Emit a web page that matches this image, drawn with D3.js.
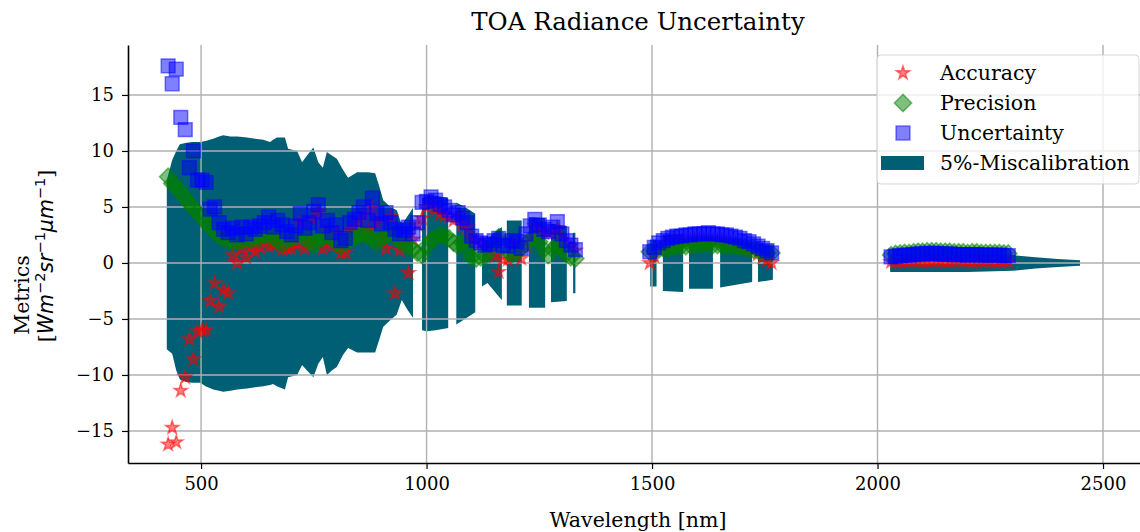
<!DOCTYPE html>
<html>
<head>
<meta charset="utf-8">
<script src="https://cdn.jsdelivr.net/npm/d3@7"></script>
<style>
  body { margin: 0; background: #fff; }
  text { font-family: "DejaVu Serif", serif; fill: #000; }
</style>
</head>
<body>
<script>
// ---- data ----
var vnirWavelength = [
  427,436,445,455,465,474,483,492,502,511,
  520,530,540,550,560,570,580,590,600,610,
  620,630,640,650,660,670,680,690,700,710,
  720,730,740,750,760,770,780,790,800,810,
  820,830,840,850,860,870,880,890,900,910,
  920,930,940,950,960,970,980,990,1000,1010,
  1020,1030,1040,1050,1060,1070,1080,1090,1100,1110,
  1120,1130,1140,1150,1160,1170,1180,1190,1200,1210,
  1220,1230,1240,1250,1260,1270,1280,1290,1300,1310,
  1320,1330
];
var vnirAccuracy = [
  -16.2,-14.7,-16.0,-11.4,-10.2,-6.8,-8.6,-6.1,-6.0,-6.0,
  -3.4,-1.8,-3.9,-2.4,-2.7,0.7,0.0,1.3,0.5,1.4,
  1.0,1.4,2.2,1.5,1.6,2.1,1.2,1.3,1.3,1.6,
  3.6,1.3,1.8,3.9,4.6,1.3,2.8,1.5,2.6,0.9,
  0.9,2.9,3.0,3.7,4.3,2.9,4.9,3.6,2.2,1.3,
  4.1,-2.7,1.1,2.1,-0.9,2.1,3.4,4.0,5.0,5.4,
  4.8,4.4,4.3,4.1,3.8,4.2,3.4,3.2,2.3,1.9,
  1.7,1.4,1.1,0.6,-0.8,0.3,0.3,1.6,1.5,0.4,
  1.5,2.3,3.3,2.9,2.7,2.7,2.8,3.1,2.1,1.7,
  1.5,1.1
];
var vnirPrecision = [
  7.7,7.1,6.8,6.3,5.8,5.3,4.9,4.5,4.1,3.6,
  3.2,2.8,2.4,2.2,2.0,1.9,1.9,2.0,2.1,2.1,
  2.2,2.3,2.5,2.4,2.3,2.0,1.7,2.0,2.2,2.4,
  2.6,2.3,1.9,1.6,2.0,2.3,2.5,2.2,1.8,1.5,
  1.8,2.1,2.3,2.5,2.6,2.4,2.1,1.8,2.2,2.5,
  2.6,2.4,2.0,1.7,1.5,1.2,0.9,0.7,1.5,2.0,
  2.3,2.5,2.4,2.2,1.8,1.5,1.8,1.3,0.5,0.4,
  0.5,0.6,1.2,1.8,2.3,1.7,1.0,0.8,1.0,1.3,
  1.7,2.1,2.3,1.9,1.2,0.7,1.2,1.7,1.3,0.8,
  0.5,0.4
];
var vnirUncertainty = [
  17.6,16.0,17.3,13.0,11.9,8.5,10.0,7.4,7.4,7.2,
  4.8,5.0,3.6,3.0,2.7,3.1,2.5,3.2,2.6,3.2,
  3.0,3.3,3.6,4.1,3.2,3.8,3.4,2.8,2.5,3.3,
  4.4,3.1,3.6,4.6,5.2,3.3,3.8,2.7,3.4,2.0,
  2.2,3.6,3.9,4.5,5.0,3.8,5.8,4.4,3.5,4.5,
  3.6,3.0,2.6,2.9,3.2,2.6,3.6,5.4,5.5,5.9,
  5.6,5.2,5.0,4.7,4.3,4.5,4.0,3.6,2.4,2.0,
  1.8,1.6,1.7,2.0,2.2,1.6,1.5,2.0,1.9,1.3,
  2.6,3.3,3.9,3.4,3.0,2.8,3.2,3.7,2.6,2.0,
  1.6,1.2
];

var swir1Wavelength = [
  1495,1505,1515,1525,1535,1545,1555,1565,1575,1585,
  1595,1605,1615,1625,1635,1645,1655,1665,1675,1685,
  1695,1705,1715,1725,1735,1745,1755,1765
];
var swir1Accuracy = [
  0.0,0.6,1.2,1.5,1.7,1.8,1.9,1.9,2.0,2.0,
  2.1,2.1,2.1,2.1,2.0,2.0,2.0,1.9,1.8,1.7,
  1.6,1.5,1.3,1.1,0.8,0.5,0.2,0.0
];
var swir1Precision = [
  1.0,1.1,1.2,1.3,1.3,1.4,1.5,1.5,1.5,1.6,
  1.6,1.6,1.7,1.7,1.6,1.6,1.6,1.5,1.5,1.5,
  1.4,1.4,1.3,1.2,1.1,1.0,0.9,0.9
];
var swir1Uncertainty = [
  1.0,1.4,1.8,2.0,2.2,2.3,2.4,2.4,2.5,2.5,
  2.6,2.6,2.6,2.7,2.6,2.6,2.5,2.5,2.4,2.3,
  2.2,2.0,1.9,1.7,1.5,1.3,1.1,0.9
];

var swir2Wavelength = [
  2030,2040,2050,2060,2070,2080,2090,2100,2110,2120,
  2130,2140,2150,2160,2170,2180,2190,2200,2210,2220,
  2230,2240,2250,2260,2270,2280,2290
];
var swir2Accuracy = [
  0.1,0.15,0.15,0.1,0.15,0.2,0.15,0.1,0.15,0.15,
  0.2,0.15,0.1,0.15,0.15,0.2,0.15,0.15,0.1,0.15,
  0.15,0.2,0.15,0.1,0.15,0.15,0.1
];
var swir2Precision = [
  0.7,0.8,0.85,0.9,0.9,0.95,1.0,1.0,1.05,1.05,
  1.05,1.0,1.0,1.0,0.95,0.95,0.95,0.9,0.95,0.95,
  0.9,0.9,0.9,0.9,0.9,0.85,0.85
];
var swir2Uncertainty = [
  0.55,0.6,0.65,0.7,0.7,0.75,0.8,0.8,0.85,0.85,
  0.85,0.8,0.8,0.8,0.75,0.75,0.75,0.7,0.75,0.75,
  0.7,0.7,0.7,0.7,0.7,0.65,0.65
];

// 5% miscalibration envelope, null = gap (no data)
var bandWavelength = [
  424,430,436,445,453,465,480,498,510,527,540,549,565,580,602,620,638,653,660,668,
  686,693,713,724,735,749,760,770,779,790,801,815,826,846,870,886,894,904,920,934,
  945,958,970, null,
  990,1000,1020,1048, null,
  1066,1085,1108, null,
  1123,1135,1150,1160,1167, null,
  1178,1211, null,
  1227,1263, null,
  1276,1311, null,
  1325,1330, null,
  1496,1510, null,
  1524,1569, null,
  1582,1635, null,
  1651,1722, null,
  1735,1768, null,
  2028,2050,2100,2200,2300,2350,2400,2449
];
var bandUpper = [
  7.4,8.3,9.2,10.0,10.6,10.7,10.8,10.8,10.9,11.1,11.3,11.4,11.3,11.3,11.2,11.1,11.0,10.8,11.0,11.2,
  11.2,10.2,10.0,9.0,9.6,10.3,9.0,8.5,9.9,9.6,9.3,8.3,7.6,8.1,8.1,8.0,7.0,5.6,5.0,4.7,
  3.4,4.2,4.9, null,
  5.8,6.0,6.0,5.8, null,
  5.4,5.0,4.4, null,
  2.2,2.0,2.6,3.0,3.2, null,
  3.8,3.8, null,
  4.1,4.0, null,
  3.5,3.3, null,
  2.7,2.7, null,
  2.1,2.1, null,
  2.5,2.6, null,
  2.3,2.3, null,
  2.2,1.7, null,
  1.7,1.5, null,
  0.8,0.8,0.8,0.8,0.7,0.5,0.35,0.25
];
var bandLower = [
  -7.7,-7.9,-8.1,-9.6,-10.4,-10.6,-10.7,-10.7,-11.0,-11.3,-11.4,-11.5,-11.4,-11.3,-11.2,-11.1,-11.0,-10.9,-10.8,-11.0,
  -11.3,-10.2,-10.0,-9.1,-9.6,-10.2,-9.0,-8.4,-10.0,-9.6,-9.3,-8.2,-7.6,-8.0,-8.0,-8.0,-7.0,-5.7,-5.1,-4.6,
  -3.3,-4.2,-4.9, null,
  -6.0,-6.1,-6.0,-5.8, null,
  -5.5,-5.0,-4.4, null,
  -2.1,-1.8,-2.5,-3.0,-3.3, null,
  -3.8,-3.8, null,
  -4.0,-4.0, null,
  -3.5,-3.4, null,
  -2.7,-2.7, null,
  -2.1,-2.1, null,
  -2.5,-2.6, null,
  -2.3,-2.3, null,
  -2.2,-1.7, null,
  -1.7,-1.5, null,
  -0.8,-0.8,-0.8,-0.8,-0.7,-0.5,-0.35,-0.25
];

var xTicks = [500, 1000, 1500, 2000, 2500];
var yTicks = [-15, -10, -5, 0, 5, 10, 15];
var legendLabels = ['Accuracy', 'Precision', 'Uncertainty', '5%-Miscalibration'];

// ---- layout ----
var width = 1140, height = 532;
var plot = { left: 128, right: 1140, top: 45, bottom: 463 };

var bandColor = '#015f75';

var x = d3.scaleLinear().domain([338, 2582]).range([plot.left, plot.right]);
var y = d3.scaleLinear().domain([-17.86, 19.46]).range([plot.bottom, plot.top]);

var svg = d3.select('body').append('svg')
  .attr('width', width)
  .attr('height', height);

function join(wl, a, p, u) {
  return wl.map(function (w, i) {
    return { wl: w, acc: a[i], prec: p[i], unc: u[i] };
  });
}
var points = join(vnirWavelength, vnirAccuracy, vnirPrecision, vnirUncertainty)
  .concat(join(swir1Wavelength, swir1Accuracy, swir1Precision, swir1Uncertainty))
  .concat(join(swir2Wavelength, swir2Accuracy, swir2Precision, swir2Uncertainty));

var band = bandWavelength.map(function (w, i) {
  return { wl: w, up: bandUpper[i], lo: bandLower[i] };
});

/**
 * Miscalibration envelope
 */
var area = d3.area()
  .defined(function (d) { return d.wl != null; })
  .x(function (d) { return x(d.wl); })
  .y0(function (d) { return y(d.lo); })
  .y1(function (d) { return y(d.up); });

svg.append('path')
  .datum(band)
  .attr('d', area)
  .attr('fill', bandColor);

/**
 * Grid
 */
var grid = svg.append('g').attr('class', 'grid');
grid.selectAll('line.gx')
  .data(xTicks)
  .enter().append('line')
  .attr('x1', x).attr('x2', x)
  .attr('y1', plot.top).attr('y2', plot.bottom)
  .attr('stroke', '#b0b0b0').attr('stroke-width', 1.4);
grid.selectAll('line.gy')
  .data(yTicks)
  .enter().append('line')
  .attr('x1', plot.left).attr('x2', plot.right)
  .attr('y1', y).attr('y2', y)
  .attr('stroke', '#b0b0b0').attr('stroke-width', 1.4);

/**
 * Markers
 */
var starPath = d3.symbol().type(d3.symbolStar).size(56)();
var diamondPath = d3.symbol().type(d3.symbolSquare).size(150)();
var squarePath = d3.symbol().type(d3.symbolSquare).size(190)();

var series = [
  { key: 'acc', path: starPath, color: 'rgba(255,0,0,0.5)', rot: 0 },
  { key: 'prec', path: diamondPath, color: 'rgba(0,128,0,0.5)', rot: 45 },
  { key: 'unc', path: squarePath, color: 'rgba(0,0,255,0.5)', rot: 0 }
];

series.forEach(function (s) {
  svg.append('g')
    .selectAll('path')
    .data(points)
    .enter().append('path')
    .attr('d', s.path)
    .attr('transform', function (d) {
      return 'translate(' + x(d.wl) + ',' + y(d[s.key]) + ') rotate(' + s.rot + ')';
    })
    .attr('fill', s.color)
    .attr('stroke', s.color)
    .attr('stroke-width', 1.5);
});

/**
 * Axes
 */
var xAxis = svg.append('g')
  .attr('transform', 'translate(0,' + plot.bottom + ')')
  .call(d3.axisBottom(x).tickValues(xTicks).tickSize(6).tickPadding(8).tickSizeOuter(0)
    .tickFormat(d3.format('d')));
var yAxis = svg.append('g')
  .attr('transform', 'translate(' + plot.left + ',0)')
  .call(d3.axisLeft(y).tickValues(yTicks).tickSize(6).tickPadding(8).tickSizeOuter(0)
    .tickFormat(function (d) { return d < 0 ? '\u2212' + Math.abs(d) : d; }));

[xAxis, yAxis].forEach(function (ax) {
  ax.select('.domain').attr('stroke', '#000').attr('stroke-width', 1.6);
  ax.selectAll('.tick line').attr('stroke', '#000').attr('stroke-width', 1.2);
  ax.selectAll('.tick text')
    .attr('font-family', '"DejaVu Serif", serif')
    .attr('font-size', 18)
    .attr('fill', '#000');
});

// title and labels
svg.append('text')
  .attr('x', 638)
  .attr('y', 30)
  .attr('text-anchor', 'middle')
  .attr('font-size', 24.5)
  .text('TOA Radiance Uncertainty');

svg.append('text')
  .attr('x', 638)
  .attr('y', 527)
  .attr('text-anchor', 'middle')
  .attr('font-size', 20.5)
  .text('Wavelength [nm]');

svg.append('text')
  .attr('transform', 'translate(29,295) rotate(-90)')
  .attr('text-anchor', 'middle')
  .attr('font-size', 20.5)
  .text('Metrics');

// unit line: brackets in serif, math part in sans italic (mathtext style)
var unit = svg.append('text')
  .attr('transform', 'translate(53,256) rotate(-90)')
  .attr('text-anchor', 'middle')
  .attr('font-size', 20.5);
var unitParts = [
  ['[', false, false], ['Wm', true, false], ['\u22122', false, true],
  ['sr', true, false], ['\u22121', false, true],
  ['\u03bcm', true, false], ['\u22121', false, true], [']', false, false]
];
var raised = false;
unitParts.forEach(function (p) {
  var t = unit.append('tspan').text(p[0]);
  if (p[1]) t.attr('font-style', 'italic').attr('font-family', '"DejaVu Sans", sans-serif');
  if (p[2]) t.attr('font-family', '"DejaVu Sans", sans-serif');
  if (p[2] && !raised) { t.attr('dy', -8).attr('font-size', 14.5); raised = true; }
  else if (p[2]) { t.attr('font-size', 14.5); }
  else if (raised) { t.attr('dy', 8); raised = false; }
});

/**
 * Legend
 */
var legend = svg.append('g').attr('transform', 'translate(877,55)');
legend.append('rect')
  .attr('width', 262).attr('height', 129).attr('rx', 4)
  .attr('fill', 'rgba(255,255,255,0.8)')
  .attr('stroke', 'rgba(204,204,204,0.8)');

legendLabels.forEach(function (label, i) {
  var cy = 18 + i * 30;
  if (i < 3) {
    var s = series[i];
    legend.append('path')
      .attr('d', s.path)
      .attr('transform', 'translate(26,' + cy + ') rotate(' + s.rot + ')')
      .attr('fill', s.color)
      .attr('stroke', s.color)
      .attr('stroke-width', 1.5);
  } else {
    legend.append('rect')
      .attr('x', 4).attr('y', cy - 7)
      .attr('width', 43).attr('height', 14)
      .attr('fill', bandColor);
  }
  legend.append('text')
    .attr('x', 63)
    .attr('y', cy + 7)
    .attr('font-size', 20.5)
    .text(label);
});
</script>
</body>
</html>
